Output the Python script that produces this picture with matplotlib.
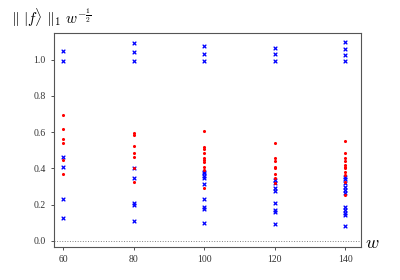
import numpy as np
import matplotlib
matplotlib.use('Agg')
import matplotlib.pyplot as plt

plt.rcParams['font.family'] = ['Liberation Serif', 'DejaVu Serif']
plt.rcParams['mathtext.fontset'] = 'cm'

# widths on the x axis
widths = [60, 80, 100, 120, 140]

# red dots, one list per width
red_vals = [
    [0.693, 0.620, 0.563, 0.541, 0.445, 0.370],
    [0.597, 0.586, 0.522, 0.487, 0.465, 0.401, 0.325],
    [0.607, 0.520, 0.507, 0.487, 0.456, 0.448, 0.437, 0.410, 0.390, 0.294],
    [0.539, 0.456, 0.440, 0.410, 0.400, 0.368, 0.346, 0.318],
    [0.552, 0.484, 0.456, 0.440, 0.420, 0.410, 0.400, 0.380, 0.364, 0.327, 0.254],
]

# blue crosses, one list per width
blue_vals = [
    [1.050, 0.993, 0.463, 0.406, 0.233, 0.127],
    [1.090, 1.040, 0.995, 0.401, 0.349, 0.211, 0.197, 0.112],
    [1.077, 1.033, 0.995, 0.382, 0.375, 0.360, 0.347, 0.313, 0.230, 0.188, 0.176, 0.101],
    [1.066, 1.030, 0.995, 0.336, 0.320, 0.292, 0.277, 0.208, 0.171, 0.162, 0.094],
    [1.096, 1.059, 1.026, 0.995, 0.355, 0.340, 0.320, 0.300, 0.280, 0.263,
     0.189, 0.170, 0.155, 0.143, 0.083],
]

fig = plt.figure(figsize=(4, 2.8), dpi=100)
ax = fig.add_axes([0.135, 0.118, 0.7675, 0.764])

for w, vals in zip(widths, red_vals):
    ax.scatter([w] * len(vals), vals, color='red', marker='o', s=5, linewidths=0, zorder=3)
for w, vals in zip(widths, blue_vals):
    ax.scatter([w] * len(vals), vals, color='blue', marker='x', s=7, linewidths=0.9, zorder=2)

ax.axhline(0, color='gray', linestyle=':', linewidth=0.7)

ax.set_xlim(57.4, 144.5)
ax.set_ylim(-0.033, 1.147)
ax.set_xticks(widths)
ax.set_yticks([0.0, 0.2, 0.4, 0.6, 0.8, 1.0])
ax.set_yticklabels(['0.0', '0.2', '0.4', '0.6', '0.8', '1.0'])
ax.tick_params(labelsize=7, length=2.5, width=0.6, colors='#333333')
for sp in ax.spines.values():
    sp.set_color('#555555')
    sp.set_linewidth(0.8)

fig.text(0.028, 0.935, r'$\Vert\ |f\rangle\ \Vert_1\ w^{-\frac{1}{2}}$', fontsize=11, ha='left', va='center')
fig.text(0.912, 0.13, r'$w$', fontsize=13, ha='left', va='center')

fig.savefig('out.png', dpi=100)
